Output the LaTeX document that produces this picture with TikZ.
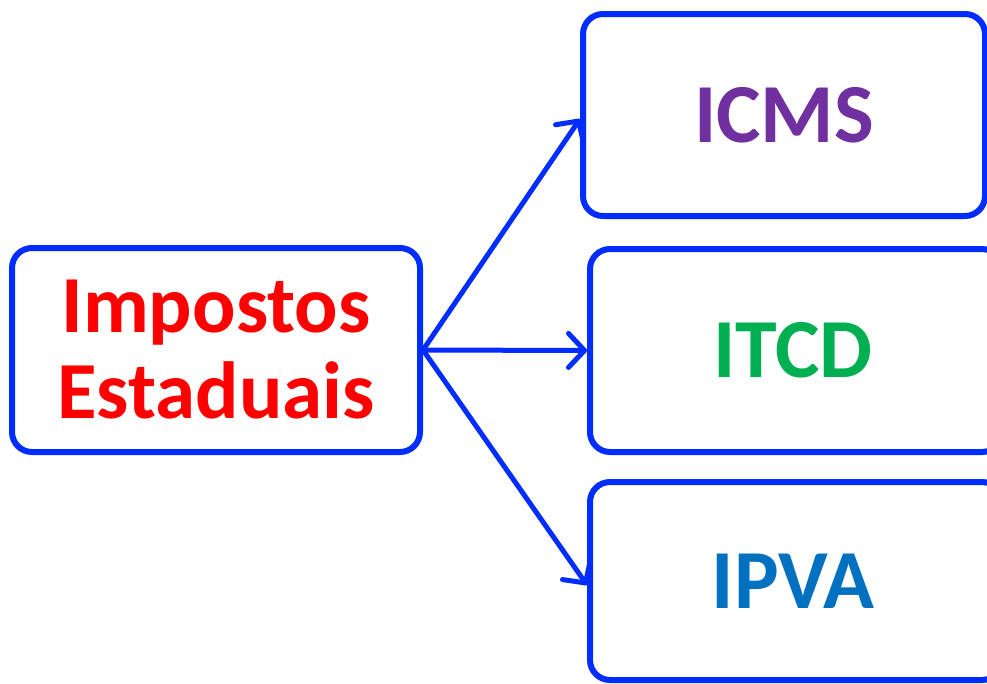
\documentclass[tikz,border=0pt]{standalone}
\usepackage{fontspec}
\setmainfont{Carlito}
\usetikzlibrary{arrows.meta}
\definecolor{boxblue}{RGB}{0,45,255}
\definecolor{icmscol}{RGB}{112,48,160}
\definecolor{itcdcol}{RGB}{0,176,80}
\definecolor{ipvacol}{RGB}{0,112,192}
\definecolor{txtred}{RGB}{255,0,0}
\begin{document}
\begin{tikzpicture}[x=1pt,y=-1pt,
  taxbox/.style={draw=boxblue, line width=6pt, rounded corners=20pt, fill=white,
    inner sep=0pt, font=\bfseries\fontsize{84}{88}\selectfont, align=center},
  conn/.style={draw=boxblue, line width=5pt, line cap=round,
    -{Straight Barb[length=16pt, width=34pt, round, line width=5pt]}}]
\useasboundingbox (0,0) rectangle (987,683);
\node[taxbox, minimum width=408pt, minimum height=204pt, text=txtred,
  font=\bfseries\fontsize{81}{88}\selectfont] (imp) at (216,350)
  {Impostos\\[-2pt]Estaduais};
\node[taxbox, minimum width=402pt, minimum height=202pt, text=icmscol] (icms) at (784,115) {ICMS};
\node[taxbox, minimum width=412pt, minimum height=203pt, text=itcdcol] (itcd) at (796,350.5) {\hspace*{-6pt}ITCD};
\node[taxbox, minimum width=412pt, minimum height=198pt, text=ipvacol] (ipva) at (796,581) {\hspace*{-6pt}IPVA};
\draw[conn] (imp.east) -- ([yshift=-4pt]icms.west);
\draw[conn] (imp.east) -- (itcd.west);
\draw[conn] (imp.east) -- ([yshift=-4pt]ipva.west);
\end{tikzpicture}
\end{document}
